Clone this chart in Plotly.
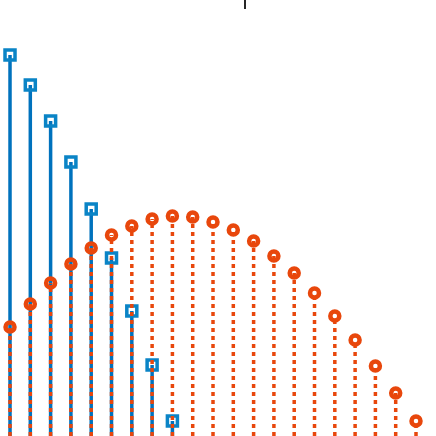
import plotly.graph_objects as go

# sample index for both series
n_blue = list(range(9))
n_orange = list(range(21))

# values (baseline at 0, just below the visible window)
blue_vals = [4.05, 3.75, 3.39, 2.98, 2.51, 2.02, 1.49, 0.95, 0.39]
orange_vals = [1.33, 1.56, 1.77, 1.96, 2.12, 2.25, 2.34, 2.41, 2.44, 2.43, 2.38,
               2.30, 2.19, 2.04, 1.87, 1.67, 1.44, 1.20, 0.94, 0.67, 0.39]

tick_x = [11.6]

blue = '#0072BD'
orange = '#E8470C'


def stem_xy(xs, ys, base=0.0):
    sx, sy = [], []
    for x, y in zip(xs, ys):
        sx += [x, x, None]
        sy += [base, y, None]
    return sx, sy


fig = go.Figure()

bx, by = stem_xy(n_blue, blue_vals)
fig.add_trace(go.Scatter(x=bx, y=by, mode='lines', line=dict(color=blue, width=3.5),
                         hoverinfo='skip'))
fig.add_trace(go.Scatter(x=n_blue, y=blue_vals, mode='markers',
                         marker=dict(symbol='square-open', size=10, color='#0a84c6',
                                     line=dict(color='#0a84c6', width=3.5))))

ox, oy = stem_xy(n_orange, orange_vals)
fig.add_trace(go.Scatter(x=ox, y=oy, mode='lines',
                         line=dict(color=orange, width=3.5, dash='4px,4px'),
                         hoverinfo='skip'))
fig.add_trace(go.Scatter(x=n_orange, y=orange_vals, mode='markers',
                         marker=dict(symbol='circle-open', size=9, color=orange,
                                     line=dict(color=orange, width=4.5))))

fig.update_layout(
    width=436, height=436, autosize=False,
    margin=dict(l=0, r=0, t=0, b=0),
    showlegend=False,
    plot_bgcolor='white', paper_bgcolor='white',
    xaxis=dict(range=[-0.493, 20.985], side='top', ticks='inside', ticklen=9,
               tickwidth=1.5, tickcolor='#262626', tickvals=tick_x,
               showticklabels=False, showline=False, showgrid=False, zeroline=False),
    yaxis=dict(range=[0.24, 4.6], visible=False, showgrid=False, zeroline=False),
)

# drop the default page margin so the plot fills the window
fig.write_html("out.html", config={'displayModeBar': False},
               post_script="document.body.style.margin='0';")
